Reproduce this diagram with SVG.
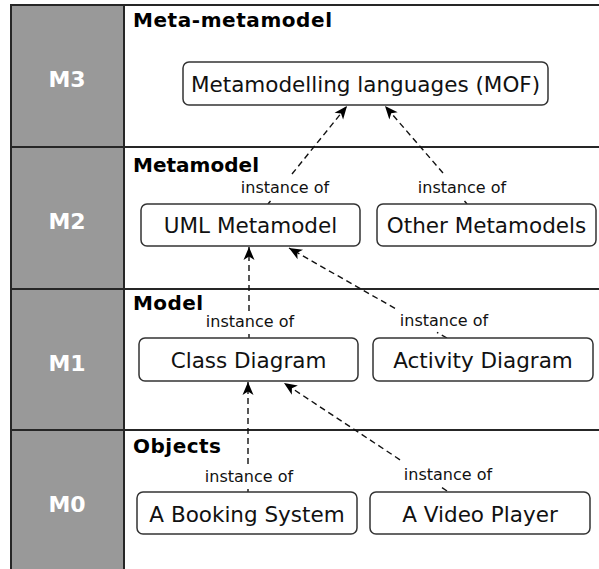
<svg xmlns="http://www.w3.org/2000/svg" width="599" height="569" viewBox="0 0 599 569">
<style>
.frame{stroke:#262626;stroke-width:2;fill:none}
.lvl{font-family:"DejaVu Sans",sans-serif;font-size:22px;font-weight:bold;fill:#fff;text-anchor:middle}
.title{font-family:"DejaVu Sans",sans-serif;font-size:20px;font-weight:bold;fill:#000}
.box{fill:#fff;stroke:#333;stroke-width:1.5}
.ntext{font-family:"DejaVu Sans",sans-serif;font-size:21.5px;fill:#111;text-anchor:middle}
.lab{font-family:"DejaVu Sans",sans-serif;font-size:16px;fill:#111;text-anchor:middle}
.conn{stroke:#111;stroke-width:1.4;stroke-dasharray:6 4;fill:none}
</style>
<defs>
<marker id="arr" markerUnits="userSpaceOnUse" markerWidth="16" markerHeight="14" refX="0" refY="0" viewBox="-14 -7 16 14" orient="auto">
<path d="M0,0 L-13,-5.5 L-9.5,0 L-13,5.5 Z" fill="#000"/>
</marker>
</defs>
<rect x="0" y="0" width="599" height="569" fill="#fff"/>
<g id="grid">
<rect x="11" y="5" width="113" height="566" fill="#999"/>
<line class="frame" x1="11" y1="5" x2="11" y2="569"/>
<line class="frame" x1="124" y1="5" x2="124" y2="569"/>
<line class="frame" x1="10" y1="5" x2="599" y2="5"/>
<line class="frame" x1="10" y1="147" x2="599" y2="147"/>
<line class="frame" x1="10" y1="289" x2="599" y2="289"/>
<line class="frame" x1="10" y1="430" x2="599" y2="430"/>
<text class="lvl" x="67" y="87">M3</text>
<text class="lvl" x="67" y="229">M2</text>
<text class="lvl" x="67" y="371">M1</text>
<text class="lvl" x="67" y="512">M0</text>
<text class="title" x="133" y="27" textLength="199">Meta-metamodel</text>
<text class="title" x="133" y="172" textLength="126">Metamodel</text>
<text class="title" x="133" y="310" textLength="70">Model</text>
<text class="title" x="133" y="453" textLength="88">Objects</text>
</g>
<g id="connectors">
<line class="conn" x1="268" y1="204" x2="270.5" y2="201"/>
<line class="conn" x1="292" y1="174" x2="347" y2="106" marker-end="url(#arr)"/>
<line class="conn" x1="467" y1="204" x2="464.5" y2="201"/>
<line class="conn" x1="443" y1="173" x2="385" y2="106" marker-end="url(#arr)"/>
<line class="conn" x1="249" y1="338" x2="249" y2="334"/>
<line class="conn" x1="249" y1="311" x2="249" y2="247" marker-end="url(#arr)"/>
<line class="conn" x1="447" y1="338" x2="437" y2="332.3"/>
<line class="conn" x1="395" y1="308.4" x2="289" y2="248" marker-end="url(#arr)"/>
<line class="conn" x1="248" y1="492" x2="248" y2="489"/>
<line class="conn" x1="248" y1="464" x2="248" y2="382" marker-end="url(#arr)"/>
<line class="conn" x1="447" y1="491" x2="441" y2="487"/>
<line class="conn" x1="400" y1="459.8" x2="284" y2="383" marker-end="url(#arr)"/>
<text class="lab" x="285" y="193">instance of</text>
<text class="lab" x="462" y="193">instance of</text>
<text class="lab" x="250" y="327">instance of</text>
<text class="lab" x="444" y="326">instance of</text>
<text class="lab" x="249" y="482">instance of</text>
<text class="lab" x="448" y="480">instance of</text>
</g>
<g id="mof">
<rect class="box" x="183" y="62" width="365" height="43" rx="6"/>
<text class="ntext" x="365.5" y="92">Metamodelling languages (MOF)</text>
</g>
<g id="uml">
<rect class="box" x="141" y="204" width="219" height="42" rx="6"/>
<text class="ntext" x="250.5" y="233">UML Metamodel</text>
</g>
<g id="other">
<rect class="box" x="377" y="204" width="219" height="42" rx="6"/>
<text class="ntext" x="486.5" y="233">Other Metamodels</text>
</g>
<g id="classdiag">
<rect class="box" x="139" y="338" width="219" height="43" rx="6"/>
<text class="ntext" x="248.5" y="368">Class Diagram</text>
</g>
<g id="activity">
<rect class="box" x="373" y="338" width="220" height="43" rx="6"/>
<text class="ntext" x="483" y="368">Activity Diagram</text>
</g>
<g id="booking">
<rect class="box" x="137" y="492" width="220" height="42" rx="6"/>
<text class="ntext" x="247" y="522">A Booking System</text>
</g>
<g id="video">
<rect class="box" x="370" y="492" width="220" height="42" rx="6"/>
<text class="ntext" x="480" y="522">A Video Player</text>
</g>
</svg>
